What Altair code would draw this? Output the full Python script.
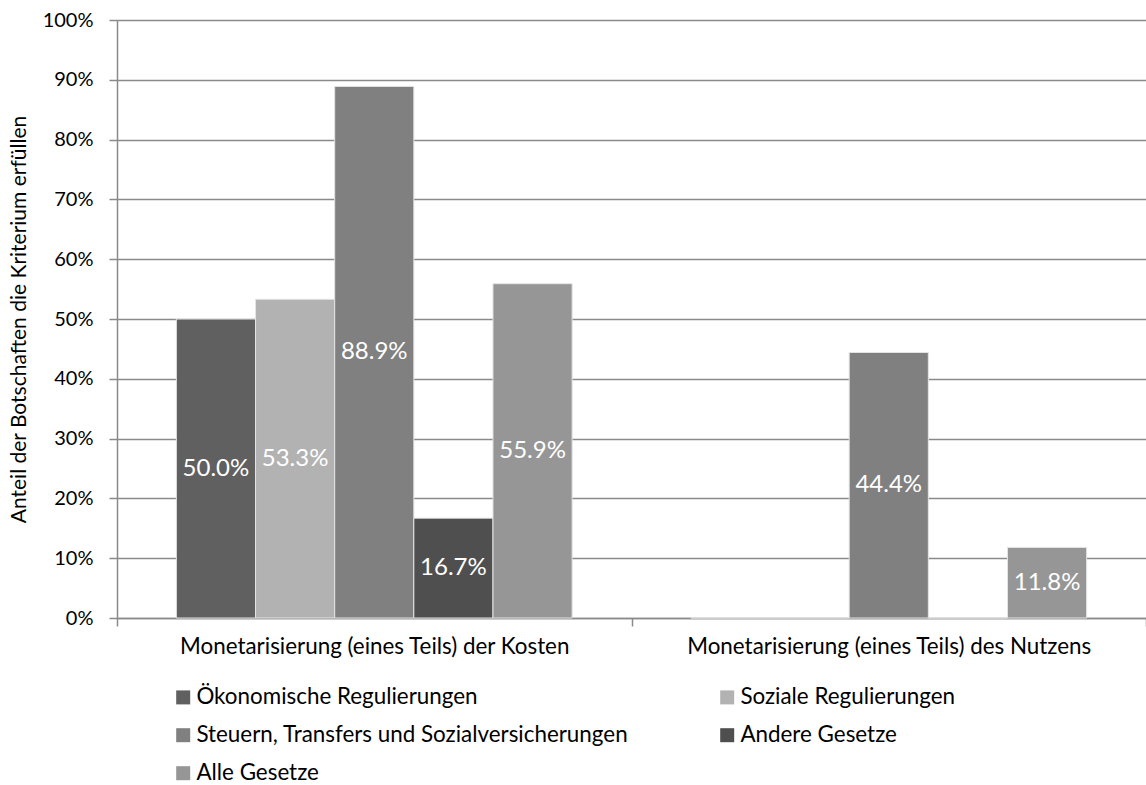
import altair as alt
import pandas as pd

categories = [
    "Monetarisierung (eines Teils) der Kosten",
    "Monetarisierung (eines Teils) des Nutzens",
]
series = [
    "Ökonomische Regulierungen",
    "Soziale Regulierungen",
    "Steuern, Transfers und Sozialversicherungen",
    "Andere Gesetze",
    "Alle Gesetze",
]
kosten = [0.500, 0.533, 0.889, 0.167, 0.559]
nutzen = [0.0, 0.0, 0.444, 0.0, 0.118]
colors = ["#606060", "#b2b2b2", "#808080", "#4f4f4f", "#969696"]
y_ticks = [0, 0.1, 0.2, 0.3, 0.4, 0.5, 0.6, 0.7, 0.8, 0.9, 1.0]

# legend is laid out column by column: order entries so rows read like the original
legend_order = [0, 2, 4, 1, 3]
legend_domain = [series[i] for i in legend_order]
legend_range = [colors[i] for i in legend_order]

rows = []
for cat, vals in zip(categories, [kosten, nutzen]):
    for s, v in zip(series, vals):
        rows.append({"Kategorie": cat, "Gruppe": s, "Wert": v})
df = pd.DataFrame(rows)

FONT = "Lato"
FS_TEXT = 22.4
FS_TICK = 20
GRID = "#8a8a8a"

x_enc = alt.X(
    "Kategorie:N",
    sort=categories,
    scale=alt.Scale(paddingInner=0, paddingOuter=0),
    axis=alt.Axis(
        title=None, labelAngle=0, tickBand="extent", tickSize=8,
        labelPadding=9, labelFontSize=FS_TEXT, grid=False, labelLimit=800,
    ),
)
xo_enc = alt.XOffset(
    "Gruppe:N", sort=series,
    scale=alt.Scale(paddingInner=0, paddingOuter=0.75),
)
y_axis = alt.Axis(
    format=".0%", values=y_ticks, tickSize=8, labelPadding=16,
    labelFontSize=FS_TICK, grid=True,
    title="Anteil der Botschaften die Kriterium erfüllen",
    titleFontSize=21, titleFontWeight="normal", titlePadding=13,
)
y_scale = alt.Scale(domain=[0, 1])

bars = alt.Chart(df).mark_bar(stroke="#e4e4e4", strokeWidth=1).encode(
    x=x_enc,
    xOffset=xo_enc,
    y=alt.Y("Wert:Q", scale=y_scale, axis=y_axis),
    color=alt.Color(
        "Gruppe:N",
        scale=alt.Scale(domain=legend_domain, range=legend_range),
        legend=alt.Legend(
            title=None, orient="none", legendX=55, legendY=666,
            columns=2, columnPadding=87, rowPadding=15,
            symbolType="square", symbolSize=196, symbolStrokeWidth=0,
            labelFont=FONT, labelFontSize=FS_TEXT, labelColor="black",
            labelLimit=800, labelOffset=2,
        ),
    ),
)

labels = (
    alt.Chart(df)
    .transform_filter("datum.Wert > 0")
    .transform_calculate(mid="datum.Wert / 2")
    .mark_text(color="white", font=FONT, fontSize=24, baseline="middle")
    .encode(
        x=x_enc,
        xOffset=xo_enc,
        y=alt.Y("mid:Q", scale=y_scale, axis=y_axis),
        text=alt.Text("Wert:Q", format=".1%"),
    )
)

chart = (
    alt.layer(bars, labels)
    .properties(
        width=1029, height=598,
        autosize=alt.AutoSizeParams(type="none"),
        padding={"left": 117, "top": 20, "right": 0, "bottom": 167},
        background="white",
    )
    .configure_view(stroke=None)
    .configure_axis(
        domainColor=GRID, tickColor=GRID, gridColor=GRID,
        domainWidth=1.5, tickWidth=1.5, gridWidth=1.5,
        labelColor="black", titleColor="black",
        labelFont=FONT, titleFont=FONT,
    )
)

chart.save("out.html", embed_options={"renderer": "svg", "actions": False})
